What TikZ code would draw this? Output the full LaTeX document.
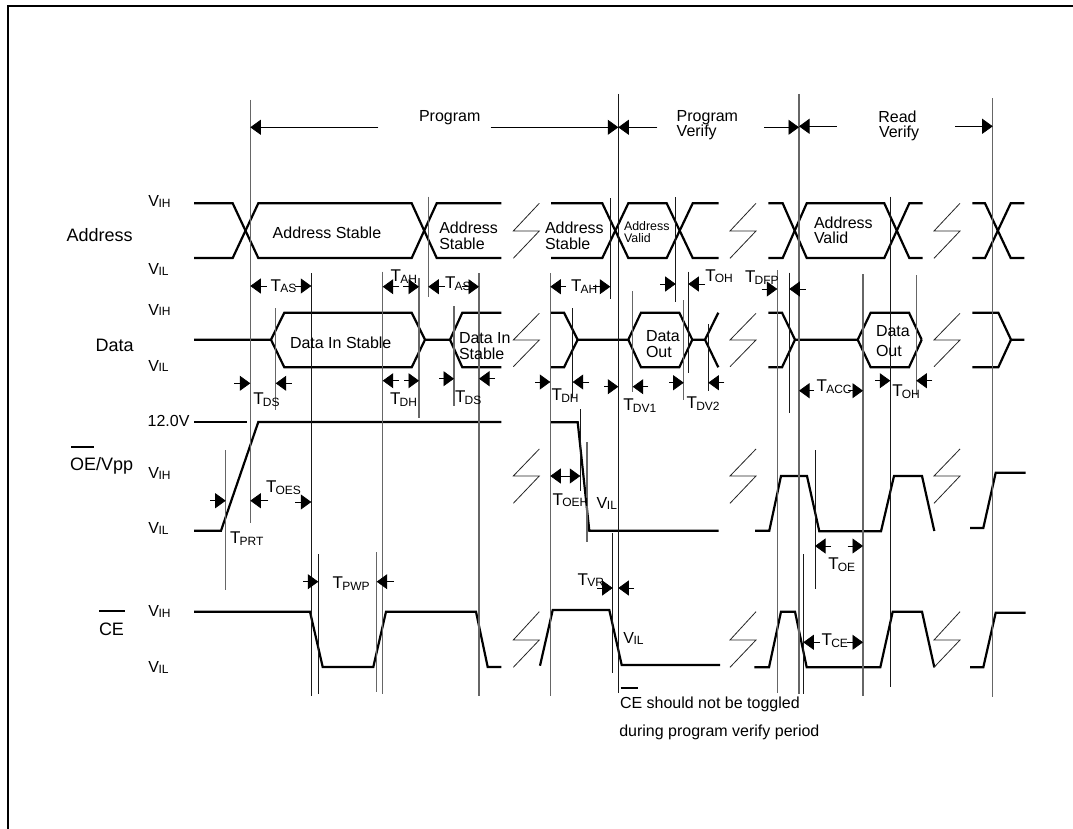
\documentclass[tikz,border=0pt]{standalone}
\usepackage{fontspec}
\setmainfont{Liberation Sans}
\usetikzlibrary{arrows.meta}
\newcommand{\fs}[1]{\fontsize{#1}{#1}\selectfont}
\newcommand{\Tsub}[1]{{\fs{17}T}\kern-0.8pt\raisebox{-1.8pt}{\fs{12}#1}}
\newcommand{\Vsub}[1]{{\fs{16}V}\kern-0.4pt\raisebox{-0.8pt}{\fs{12}#1}}
\tikzset{
  wave/.style={line width=2.2pt,line cap=butt,line join=miter},
  vthin/.style={line width=0.9pt,black!90},
  vgray/.style={line width=1.3pt,black!60},
  zig/.style={line width=0.8pt,black!85},
  bar/.style={line width=2pt},
  dim/.style={line width=0.7pt,-{Triangle[length=10.5pt,width=15pt]}},
  lab/.style={anchor=base west,inner sep=0pt,outer sep=0pt,font=\fs{16}},
  big/.style={anchor=base west,inner sep=0pt,outer sep=0pt,font=\fs{18}},
  small/.style={anchor=base west,inner sep=0pt,outer sep=0pt,font=\fs{12.4}},
}
\newcommand{\zz}[5]{\draw[zig] (#1+26,#2) -- (#1,#3) -- (#1+26,#4) -- (#1,#5);}
\newcommand{\va}[3]{\draw[vthin] (#1,#2) -- (#1,#3);}
\newcommand{\vb}[3]{\draw[vgray] (#1,#2) -- (#1,#3);}
\newcommand{\da}[3]{\draw[dim] (#2,#1) -- (#3,#1);}
\begin{document}
\begin{tikzpicture}[x=1pt,y=-1pt]
\useasboundingbox (0,0) rectangle (1073,829);
\fill[white] (0,0) rectangle (1073,829);
% frame
\draw[line width=2pt] (8,829) -- (8,6) -- (1073,6);
% Address
\draw[wave] (194,203.3) -- (232.7,203.3) -- (258.3,258) -- (411.7,258) -- (436.7,203.3) -- (501.3,203.3);
\draw[wave] (194,258) -- (232.7,258) -- (258.3,203.3) -- (411.7,203.3) -- (436.7,258) -- (501.3,258);
\draw[wave] (551,203.3) -- (602.3,203.3) -- (628.3,258) -- (666.7,258) -- (692.7,203.3) -- (718.7,203.3);
\draw[wave] (551,258) -- (602.3,258) -- (628.3,203.3) -- (666.7,203.3) -- (692.7,258) -- (718.7,258);
\draw[wave] (768.3,203.3) -- (782.7,203.3) -- (806.7,258) -- (884.3,258) -- (909.3,203.3) -- (922.7,203.3);
\draw[wave] (768.3,258) -- (782.7,258) -- (806.7,203.3) -- (884.3,203.3) -- (909.3,258) -- (922.7,258);
\draw[wave] (972.3,203.3) -- (985,203.3) -- (1010.7,258) -- (1024.3,258);
\draw[wave] (972.3,258) -- (985,258) -- (1010.7,203.3) -- (1024.3,203.3);
% Data
\draw[wave] (194,339.7) -- (271,339.7) -- (284.3,312.7) -- (411.7,312.7) -- (425,339.7) -- (450,339.7) -- (462.3,312.7) -- (501.3,312.7);
\draw[wave] (271,339.7) -- (284.3,367.3) -- (411.7,367.3) -- (425,339.7);
\draw[wave] (450,339.7) -- (462.3,367.3) -- (501.3,367.3);
\draw[wave] (550.3,312.7) -- (564,312.7) -- (577.7,339.7) -- (628.3,339.7) -- (641,312.7) -- (679.3,312.7) -- (692.3,339.7) -- (705,339.7) -- (718.3,312.7);
\draw[wave] (550.3,367.3) -- (564,367.3) -- (577.7,339.7);
\draw[wave] (628.3,339.7) -- (641,367.3) -- (679.3,367.3) -- (692.3,339.7);
\draw[wave] (705,339.7) -- (718.3,367.3);
\draw[wave] (768.3,312.7) -- (782,312.7) -- (795,339.7) -- (857.7,339.7) -- (870.7,312.7) -- (909,312.7) -- (921.7,339.7);
\draw[wave] (768.3,367.3) -- (782,367.3) -- (795,339.7);
\draw[wave] (857.7,339.7) -- (870.7,367.3) -- (909,367.3) -- (921.7,339.7);
\draw[wave] (972.3,312.7) -- (998.3,312.7) -- (1011,339.7) -- (1024.3,339.7);
\draw[wave] (972.3,367.3) -- (998.3,367.3) -- (1011,339.7);
% OE/Vpp
\draw[wave] (194,422) -- (246.7,422);
\draw[wave] (194,530.7) -- (221,530.7) -- (258.3,422) -- (501.3,422);
\draw[wave] (550.3,422.3) -- (577.7,422.3) -- (589.3,530.7) -- (718.7,530.7);
\draw[wave] (755,530.7) -- (769.3,530.7) -- (781,476) -- (807,476) -- (819.3,531.3) -- (881,531.3) -- (894,476) -- (922,476) -- (934.3,531);
\draw[wave] (970,528) -- (983.3,528) -- (995.7,472.7) -- (1025.7,472.7);
% CE
\draw[wave] (194,611.7) -- (310,611.7) -- (322.7,667) -- (373.3,667) -- (386,611.7) -- (476,611.7) -- (487.7,667) -- (501.3,667);
\draw[wave] (540,665.7) -- (552.7,610) -- (609.3,610) -- (621.7,665) -- (720,665);
\draw[wave] (754.3,667.3) -- (769,667.3) -- (781,611.7) -- (795,611.7) -- (806.7,667.3) -- (880.3,667.3) -- (892.7,611.7) -- (922,611.7) -- (934.3,667.3);
\draw[wave] (970,667.3) -- (983.3,667.3) -- (995.7,612.7) -- (1025.7,612.7);
% break marks
\foreach \bx in {513.3,730,934}{
  \zz{\bx}{203.3}{231}{231}{258.3}
  \zz{\bx}{313.3}{340}{340}{366.7}
  \zz{\bx}{449}{476}{476}{503.3}
  \zz{\bx}{611.7}{640}{640}{667.3}
}
% vertical timing lines
\vb{250.3}{100}{522.7}
\va{311.3}{273.3}{695.7}
\vb{382.7}{271.7}{694.3}
\vb{419}{278}{418.3}
\vb{428.3}{196.7}{297.3}
\vb{479}{273.3}{695.7}
\vb{275.7}{308.3}{410}
\vb{454}{306}{406}
\vb{225.7}{450}{590}
\va{318.3}{554}{694}
\vb{376.7}{552.3}{691.7}
\vb{550.3}{273.3}{695.7}
\va{572.7}{308}{397}
\va{580.3}{409.3}{491}
\va{610.3}{198.3}{299.3}
\va{618.3}{94}{693.3}
\vb{632.7}{291}{391.7}
\va{675.7}{197.3}{301.7}
\vb{683.7}{300}{400}
\va{688.3}{271.7}{372.7}
\va{708.3}{324.3}{391}
\vb{777.3}{270}{692.7}
\va{789.3}{272.7}{412.7}
\vb{799}{94}{694}
\vb{863}{274}{695.7}
\va{890.3}{196.7}{687.3}
\vb{916.3}{275}{395}
\vb{992.7}{98.3}{697.3}
\va{815}{450}{589.3}
\va{803.3}{554}{694.3}
\vb{587}{442.3}{542.3}
\va{612.7}{533.3}{673.3}
% arrows
\da{127.3}{378.3}{250.3}
\da{127.3}{490.7}{618.3}
\da{127.3}{657.3}{618.3}
\da{127.3}{764}{799}
\da{126.3}{836.7}{799}
\da{126.3}{955}{992.7}
\da{286}{266.7}{250.3}
\da{286}{295}{311.3}
\da{286.7}{399.3}{382.7}
\da{286.7}{403}{419}
\da{286.7}{445}{428.3}
\da{286.7}{462.3}{479}
\da{383.3}{234}{250.3}
\da{383.3}{291.7}{275.7}
\da{380.7}{399}{382.7}
\da{380.7}{404}{419}
\da{378.7}{439}{454}
\da{378.7}{495}{479}
\da{500.7}{210}{225.7}
\da{500.7}{268.3}{250.3}
\da{502}{295}{311.3}
\da{581.7}{303.3}{318.3}
\da{581.7}{394}{376.7}
\da{286.7}{566}{550.3}
\da{286.7}{593.3}{610.3}
\da{284}{660}{675.7}
\da{284}{705}{688.3}
\da{289}{761.7}{777.3}
\da{289}{805.7}{789.3}
\da{382}{535}{550.3}
\da{382}{589.3}{572.7}
\da{386.7}{604}{618.3}
\da{386.7}{648.3}{632.7}
\da{382.7}{669.3}{683.7}
\da{382.7}{724.3}{708.3}
\da{390.7}{814}{799}
\da{390.7}{848.3}{863}
\da{380.7}{875}{890.3}
\da{380.7}{932.3}{916.3}
\draw[line width=0.7pt,{Triangle[length=10.5pt,width=15pt]}-{Triangle[length=10.5pt,width=15pt]}] (550.3,476) -- (580.3,476);
\da{588}{597.3}{612.7}
\da{588}{634}{618.3}
\da{546}{831}{815}
\da{546}{847.7}{863}
\da{642.3}{820}{803.3}
\da{642.3}{847.3}{863}
% signal names
\node[big] (nAddress) at (66.7,241.7) {Address};
\node[big] (nData) at (95.7,351.7) {Data};
\node[big] (nOE) at (70,470.7) {OE/Vpp};
\node[big] (nCE) at (99,635) {CE};
\draw[bar] (71,446.7) -- (94.3,446.7);
\draw[bar] (99.3,610.7) -- (125.3,610.7);
% levels
\node[lab] (vih1) at (148.3,206.7) {\Vsub{IH}};
\node[lab] (vil1) at (148.3,274.3) {\Vsub{IL}};
\node[lab] (vih2) at (148.3,315) {\Vsub{IH}};
\node[lab] (vil2) at (148.3,371) {\Vsub{IL}};
\node[lab] (v12) at (147.7,426) {12.0V};
\node[lab] (vih3) at (148.3,478.3) {\Vsub{IH}};
\node[lab] (vil3) at (148.3,533.3) {\Vsub{IL}};
\node[lab] (vih4) at (148.3,616.7) {\Vsub{IH}};
\node[lab] (vil4) at (148.3,672.3) {\Vsub{IL}};
\node[lab] (vil5) at (596.7,508.3) {\Vsub{IL}};
\node[lab] (vil6) at (623.3,643.3) {\Vsub{IL}};
% phases
\node[lab] (pProgram) at (419,121.7) {Program};
\node[lab] (pVerify1) at (676.7,122) {Program};
\node[lab] (pVerify2) at (676.7,137) {Verify};
\node[lab] (pRead1) at (878.3,122.3) {Read};
\node[lab] (pRead2) at (879,137.5) {Verify};
% wave labels
\node[lab] (a1) at (272.7,238.3) {Address Stable};
\node[lab] (a2a) at (439.3,233.3) {Address};
\node[lab] (a2b) at (439.3,249) {Stable};
\node[lab] (a3a) at (545,233.3) {Address};
\node[lab] (a3b) at (545,249) {Stable};
\node[small] (a4a) at (624,230) {Address};
\node[small] (a4b) at (624,242.7) {Valid};
\node[lab] (a5a) at (814,228.3) {Address};
\node[lab] (a5b) at (814,243.7) {Valid};
\node[lab] (d1) at (290,348.3) {Data In Stable};
\node[lab] (d2a) at (459,343.3) {Data In};
\node[lab] (d2b) at (459,359) {Stable};
\node[lab] (d3a) at (646,341) {Data};
\node[lab] (d3b) at (646,357.7) {Out};
\node[lab] (d4a) at (876,336) {Data};
\node[lab] (d4b) at (876,356) {Out};
% timing labels
\node[lab] (tas1) at (270.7,291) {\Tsub{AS}};
\node[lab] (tah1) at (390.7,281.7) {\Tsub{AH}};
\node[lab] (tas2) at (445,288.3) {\Tsub{AS}};
\node[lab] (tds1) at (253.3,404.3) {\Tsub{DS}};
\node[lab] (tdh1) at (390,404.3) {\Tsub{DH}};
\node[lab] (tds2) at (455,402.7) {\Tsub{DS}};
\node[lab] (tprt) at (230,543.3) {\Tsub{PRT}};
\node[lab] (toes) at (266,492.3) {\Tsub{OES}};
\node[lab] (tpwp) at (332.7,588.3) {\Tsub{PWP}};
\node[lab] (tah2) at (571,291.7) {\Tsub{AH}};
\node[lab] (toh1) at (705.3,281) {\Tsub{OH}};
\node[lab] (tdfp) at (745,282.3) {\Tsub{DFP}};
\node[lab] (tdh2) at (551.7,400.7) {\Tsub{DH}};
\node[lab] (tdv1) at (623.3,410.7) {\Tsub{DV1}};
\node[lab] (tdv2) at (686.7,408.3) {\Tsub{DV2}};
\node[lab] (tacc) at (816.7,391.7) {\Tsub{ACC}};
\node[lab] (toh2) at (892.3,396.7) {\Tsub{OH}};
\node[lab] (toeh) at (552.7,505) {\Tsub{OEH}};
\node[lab] (tvr) at (577.7,585) {\Tsub{VR}};
\node[lab] (toe) at (828.3,569.3) {\Tsub{OE}};
\node[lab] (tce) at (821.7,645.3) {\Tsub{CE}};
% note
\draw[bar] (620.7,688) -- (638.3,688);
\node[lab] (note1) at (620,708.3) {CE should not be toggled};
\node[lab] (note2) at (619.3,736.7) {during program verify period};
\end{tikzpicture}
\end{document}
